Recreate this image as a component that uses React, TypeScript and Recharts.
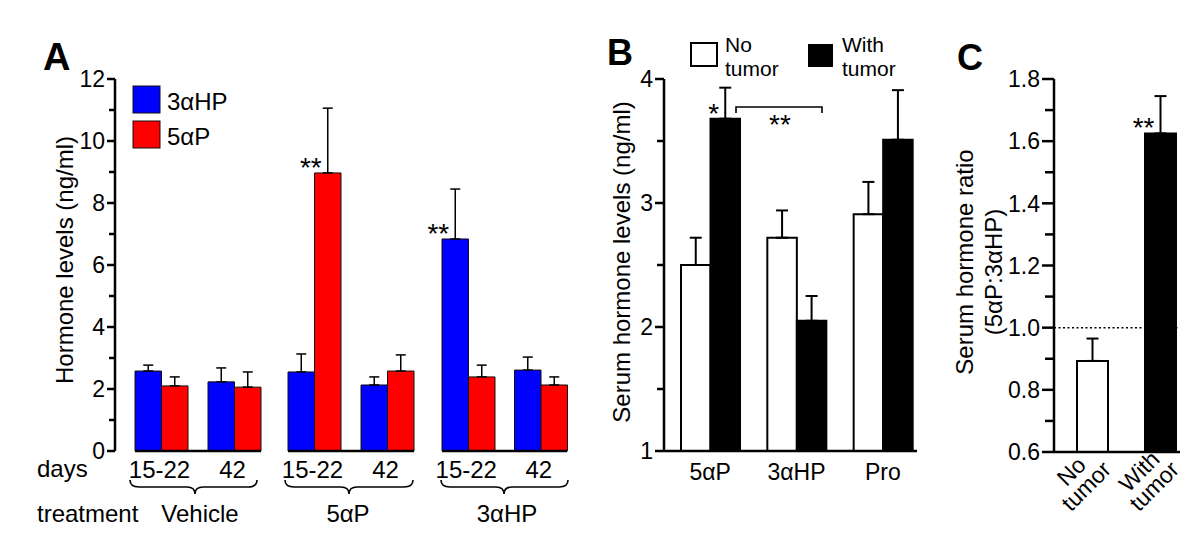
import React from 'react';
import { BarChart, Bar, XAxis, YAxis, ErrorBar, LabelList, ReferenceLine, Cell } from 'recharts';

const FONT = '"Liberation Sans", Arial, Helvetica, sans-serif';
const W = 1200;
const H = 556;

// ---------- Panel A data ----------
const dayLabels = ['15-22', '42'];
const treatmentLabels = ['Vehicle', '5αP', '3αHP'];
const hp3Means = [2.58, 2.23, 2.55, 2.13, 6.84, 2.61];
const hp3Sems = [0.19, 0.45, 0.58, 0.26, 1.61, 0.42];
const p5Means = [2.1, 2.06, 8.97, 2.58, 2.39, 2.13];
const p5Sems = [0.29, 0.49, 2.09, 0.52, 0.38, 0.26];
const hp3Sig = ['', '', '', '', '**', ''];
const p5Sig = ['', '', '**', '', '', ''];
const aYTicks = [0, 1, 2, 3, 4, 5, 6, 7, 8, 9, 10, 11, 12];

// ---------- Panel B data ----------
const bHormones = ['5αP', '3αHP', 'Pro'];
const bNoTumor = [2.5, 2.72, 2.91];
const bNoTumorSem = [0.22, 0.22, 0.26];
const bWithTumor = [3.68, 2.05, 3.51];
const bWithTumorSem = [0.25, 0.2, 0.4];
const bWithSig = ['*', '', ''];
const bYTicks = [1, 1.5, 2, 2.5, 3, 3.5, 4];

// ---------- Panel C data ----------
const cGroups = ['No tumor', 'With tumor'];
const cRatio = [0.893, 1.625];
const cRatioSem = [0.072, 0.12];
const cSig = ['', '**'];
const cFills = ['#ffffff', '#000000'];
const cYTicks = [0.6, 0.7, 0.8, 0.9, 1.0, 1.1, 1.2, 1.3, 1.4, 1.5, 1.6, 1.7, 1.8];

// ---------- layout ----------
const TOP = 79;
const BASE_AB = 451;
const BASE_C = 452;
const X_AXIS_H = 30;
const aPlots: [number, number][] = [[135, 261], [288, 414], [442, 567]];
const A_AXIS_X = 115;
const B_AXIS_X = 664;
const B_RIGHT = 917;
const C_AXIS_X = 1054;
const C_RIGHT = 1180;

const Layer = ({ children }: { children: React.ReactNode }) => (
  <div style={{ position: 'absolute', left: 0, top: 0, width: W, height: H }}>{children}</div>
);

function makeYTick(axisX: number, major: number, minor: number, gap: number,
  isMajor: (v: number) => boolean, fmt: (v: number) => string) {
  return (props: any) => {
    const y = Number(props.y);
    const v = Number(props.payload.value);
    const maj = isMajor(v);
    return (
      <g>
        <line x1={axisX - (maj ? major : minor)} x2={axisX} y1={y} y2={y} stroke="#000" strokeWidth={2.5} />
        {maj && (
          <text x={axisX - gap} y={y} dy="0.36em" textAnchor="end" fontSize={23} fontFamily={FONT} fill="#000">
            {fmt(v)}
          </text>
        )}
      </g>
    );
  };
}

const StarLabel = (props: any) => {
  const { x, y, width, value } = props;
  if (!value) return null;
  return (
    <text x={Number(x) + Number(width) / 2 - 6} y={Number(y) + 4} textAnchor="end" fontSize={28} fontFamily={FONT} fill="#000">
      {value}
    </text>
  );
};

const DayTick = (props: any) => (
  <text x={Number(props.x) - 2} y={Number(props.y) + 27} textAnchor="middle" fontSize={24} fontFamily={FONT} fill="#000">
    {props.payload.value}
  </text>
);

const BTick = (props: any) => (
  <text x={Number(props.x)} y={Number(props.y) + 29} textAnchor="middle" fontSize={23} fontFamily={FONT} fill="#000">
    {props.payload.value}
  </text>
);

const CTick = (props: any) => {
  const lines = String(props.payload.value).split(' ');
  return (
    <g transform={`translate(${Number(props.x) - 13},${Number(props.y) + 27}) rotate(-45)`}>
      <text textAnchor="middle" fontSize={23} fontFamily={FONT} fill="#000">
        <tspan x={0} y={-3}>{lines[0]}</tspan>
        <tspan x={0} y={18}>{lines[1]}</tspan>
      </text>
    </g>
  );
};

const axisLineStyle = { stroke: '#000', strokeWidth: 2.5 };

function AYAxisChart() {
  const data = dayLabels.map((d, i) => ({ day: d, hp3: hp3Means[i] }));
  return (
    <Layer>
      <BarChart width={W} height={H} data={data}
        margin={{ top: TOP, bottom: H - BASE_AB - X_AXIS_H, left: 0, right: W - (A_AXIS_X + 5) }}>
        <XAxis dataKey="day" height={X_AXIS_H} axisLine={false} tickLine={false} tick={false} />
        <YAxis width={A_AXIS_X} domain={[0, 12]} ticks={aYTicks} interval={0} axisLine={axisLineStyle}
          tickLine={false} tickSize={8} tickMargin={3}
          tick={makeYTick(A_AXIS_X, 8, 6, 10, (v) => v % 2 === 0, (v) => String(v))} />
        <Bar dataKey="hp3" fill="none" stroke="none" isAnimationActive={false} />
      </BarChart>
    </Layer>
  );
}

function ATreatmentChart({ t }: { t: number }) {
  const [left, right] = aPlots[t];
  const data = dayLabels.map((d, i) => {
    const k = t * 2 + i;
    return {
      day: d,
      hp3: hp3Means[k],
      hp3Err: [0, hp3Sems[k]],
      hp3Sig: hp3Sig[k],
      p5: p5Means[k],
      p5Err: [0, p5Sems[k]],
      p5Sig: p5Sig[k],
    };
  });
  return (
    <Layer>
      <BarChart width={W} height={H} data={data} barGap={0}
        margin={{ top: TOP, bottom: H - BASE_AB - X_AXIS_H, left, right: W - right }}>
        <XAxis dataKey="day" height={X_AXIS_H} padding={{ left: -10, right: -10 }} axisLine={axisLineStyle}
          tickLine={false} tickSize={0} tickMargin={0} interval={0} tick={DayTick} />
        <YAxis hide width={0} domain={[0, 12]} />
        <Bar dataKey="hp3" fill="#0000ff" stroke="#111" strokeWidth={1} barSize={26.5} isAnimationActive={false}>
          <ErrorBar dataKey="hp3Err" width={5} stroke="#000" strokeWidth={1.5} direction="y" />
          <LabelList dataKey="hp3Sig" content={StarLabel} />
        </Bar>
        <Bar dataKey="p5" fill="#ff0000" stroke="#111" strokeWidth={1} barSize={26.5} isAnimationActive={false}>
          <ErrorBar dataKey="p5Err" width={5} stroke="#000" strokeWidth={1.5} direction="y" />
          <LabelList dataKey="p5Sig" content={StarLabel} />
        </Bar>
      </BarChart>
    </Layer>
  );
}

function BChart() {
  const data = bHormones.map((h, i) => ({
    hormone: h,
    no: bNoTumor[i],
    noErr: [0, bNoTumorSem[i]],
    withT: bWithTumor[i],
    withErr: [0, bWithTumorSem[i]],
    withSig: bWithSig[i],
  }));
  return (
    <Layer>
      <BarChart width={W} height={H} data={data} barGap={0}
        margin={{ top: TOP, bottom: H - BASE_AB - X_AXIS_H, left: B_AXIS_X - 60, right: W - B_RIGHT }}>
        <XAxis dataKey="hormone" height={X_AXIS_H} padding={{ left: 3, right: -9 }} axisLine={axisLineStyle}
          tickLine={false} tickSize={0} tickMargin={0} interval={0} tick={BTick} />
        <YAxis width={60} domain={[1, 4]} ticks={bYTicks} interval={0} axisLine={axisLineStyle}
          tickLine={false} tickSize={9} tickMargin={2}
          tick={makeYTick(B_AXIS_X, 9, 7, 11, (v) => Number.isInteger(v), (v) => String(v))} />
        <Bar dataKey="no" fill="#ffffff" stroke="#000" strokeWidth={2} barSize={29.5} isAnimationActive={false}>
          <ErrorBar dataKey="noErr" width={6} stroke="#000" strokeWidth={2} direction="y" />
        </Bar>
        <Bar dataKey="withT" fill="#000000" stroke="#000" strokeWidth={2} barSize={29.5} isAnimationActive={false}>
          <ErrorBar dataKey="withErr" width={6} stroke="#000" strokeWidth={2} direction="y" />
          <LabelList dataKey="withSig" content={StarLabel} />
        </Bar>
      </BarChart>
    </Layer>
  );
}

function CChart() {
  const data = cGroups.map((g, i) => ({
    group: g,
    ratio: cRatio[i],
    ratioErr: [0, cRatioSem[i]],
    sig: cSig[i],
  }));
  return (
    <Layer>
      <BarChart width={W} height={H} data={data}
        margin={{ top: TOP, bottom: H - BASE_C - X_AXIS_H, left: C_AXIS_X - 60, right: W - C_RIGHT }}>
        <XAxis dataKey="group" height={X_AXIS_H} padding={{ left: 4, right: -14 }} axisLine={axisLineStyle}
          tickLine={false} tickSize={0} tickMargin={0} interval={0} tick={CTick} />
        <YAxis width={60} domain={[0.6, 1.8]} ticks={cYTicks} interval={0} axisLine={axisLineStyle}
          tickLine={false} tickSize={12} tickMargin={2}
          tick={makeYTick(C_AXIS_X, 12, 9, 14, (v) => Math.round(v * 10) % 2 === 0, (v) => v.toFixed(1))} />
        <ReferenceLine y={1} stroke="#000" strokeWidth={1.5} strokeDasharray="2 2.5" />
        <Bar dataKey="ratio" stroke="#000" strokeWidth={2} barSize={31} isAnimationActive={false}>
          {data.map((d, i) => (
            <Cell key={d.group} fill={cFills[i]} />
          ))}
          <ErrorBar dataKey="ratioErr" width={6} stroke="#000" strokeWidth={2} direction="y" />
          <LabelList dataKey="sig" content={StarLabel} />
        </Bar>
      </BarChart>
    </Layer>
  );
}

function brace(x0: number, xc: number, x1: number) {
  const yt = 480, ym = 487, yb = 494;
  return `M${x0},${yt} Q${x0},${ym} ${x0 + 9},${ym} L${xc - 8},${ym} Q${xc},${ym} ${xc},${yb} Q${xc},${ym} ${xc + 8},${ym} L${x1 - 9},${ym} Q${x1},${ym} ${x1},${yt}`;
}

function Overlay() {
  const t = { fontFamily: FONT, fill: '#000' } as const;
  const braces: [number, number, number][] = [[130, 195, 257], [285, 349, 413], [441, 504, 568]];
  const treatCenters = [200, 348, 507];
  return (
    <svg width={W} height={H} style={{ position: 'absolute', left: 0, top: 0, pointerEvents: 'none' }}>
      {/* Panel letters */}
      <text x={43} y={70} fontSize={38} fontWeight="bold" {...t}>A</text>
      <text x={607} y={65} fontSize={36} fontWeight="bold" {...t}>B</text>
      <text x={957} y={70} fontSize={36} fontWeight="bold" {...t}>C</text>

      {/* Panel A legend */}
      <rect x={133} y={86} width={27} height={27} fill="#0000ff" stroke="#111" strokeWidth={1} />
      <text x={167} y={110} fontSize={24} {...t}>3αHP</text>
      <rect x={133} y={121} width={27} height={27} fill="#ff0000" stroke="#111" strokeWidth={1} />
      <text x={167} y={145} fontSize={24} {...t}>5αP</text>

      {/* Panel A axis title */}
      <text transform="translate(73,260) rotate(-90)" textAnchor="middle" fontSize={24} {...t}>Hormone levels (ng/ml)</text>

      {/* Panel A row labels */}
      <text x={37} y={477} fontSize={24} {...t}>days</text>
      <text x={37} y={522} fontSize={24} {...t}>treatment</text>
      {braces.map(([a, c, b], i) => (
        <path key={i} d={brace(a, c, b)} fill="none" stroke="#000" strokeWidth={1.6} />
      ))}
      {treatmentLabels.map((lab, i) => (
        <text key={lab} x={treatCenters[i]} y={522} textAnchor="middle" fontSize={24} {...t}>{lab}</text>
      ))}

      {/* Panel B legend */}
      <rect x={691} y={43} width={26} height={23} fill="#fff" stroke="#000" strokeWidth={2} />
      <text x={725} y={52} fontSize={21} {...t}>No</text>
      <text x={725} y={76} fontSize={21} {...t}>tumor</text>
      <rect x={808} y={44} width={25} height={23} fill="#000" />
      <text x={842} y={52} fontSize={21} {...t}>With</text>
      <text x={842} y={76} fontSize={21} {...t}>tumor</text>

      {/* Panel B bracket */}
      <path d="M736,113 L736,107 L822,107 L822,113" fill="none" stroke="#000" strokeWidth={1.6} />
      <text x={780} y={134} textAnchor="middle" fontSize={28} {...t}>**</text>

      {/* Panel B axis title */}
      <text transform="translate(630,262) rotate(-90)" textAnchor="middle" fontSize={24} {...t}>Serum hormone levels (ng/ml)</text>

      {/* Panel C axis title */}
      <text transform="translate(973,262) rotate(-90)" textAnchor="middle" fontSize={24} {...t}>Serum hormone ratio</text>
      <text transform="translate(1002,272) rotate(-90)" textAnchor="middle" fontSize={24} {...t}>(5αP:3αHP)</text>
    </svg>
  );
}

export default function App() {
  return (
    <div style={{ position: 'absolute', left: 0, top: 0, width: W, height: H, background: '#fff', overflow: 'hidden' }}>
      <AYAxisChart />
      <ATreatmentChart t={0} />
      <ATreatmentChart t={1} />
      <ATreatmentChart t={2} />
      <BChart />
      <CChart />
      <Overlay />
    </div>
  );
}
